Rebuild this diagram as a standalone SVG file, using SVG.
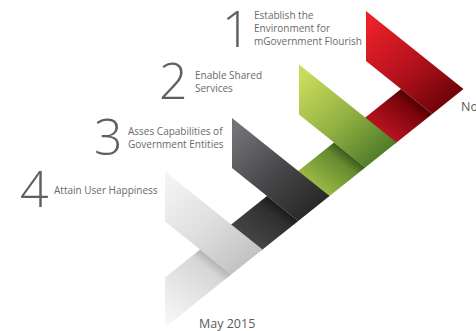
<svg xmlns="http://www.w3.org/2000/svg" width="476" height="331" viewBox="0 0 476 331">
  <defs>
    <!-- upper arm of each chevron (local coordinates, top-left corner at 0,0) -->
    <path id="armUpper" d="M0,0 L97.5,78 L66.25,103 L0,50 Z"/>
    <!-- lower arm, tucked under the next chevron -->
    <path id="armLower" d="M35,78 L66.25,103 L29,132.8 L-2,107.6 Z"/>
    <!-- lower arm of the last chevron, cut square at the left -->
    <path id="armLowerEnd" d="M35,78 L66.25,103 L0,156 L0,106 Z"/>

    <linearGradient id="redUp" gradientUnits="userSpaceOnUse" x1="5" y1="10" x2="85" y2="95">
      <stop offset="0" stop-color="#ec2029"/>
      <stop offset="0.5" stop-color="#b5121d"/>
      <stop offset="1" stop-color="#6a0207"/>
    </linearGradient>
    <linearGradient id="redLow" gradientUnits="userSpaceOnUse" x1="50.6" y1="90.5" x2="22.5" y2="125.6">
      <stop offset="0" stop-color="#520003"/>
      <stop offset="0.25" stop-color="#7c050c"/>
      <stop offset="1" stop-color="#b8141f"/>
    </linearGradient>

    <linearGradient id="greenUp" gradientUnits="userSpaceOnUse" x1="5" y1="10" x2="85" y2="95">
      <stop offset="0" stop-color="#cadb5c"/>
      <stop offset="0.5" stop-color="#93b243"/>
      <stop offset="1" stop-color="#4a7826"/>
    </linearGradient>
    <linearGradient id="greenLow" gradientUnits="userSpaceOnUse" x1="50.6" y1="90.5" x2="22.5" y2="125.6">
      <stop offset="0" stop-color="#3a5c1c"/>
      <stop offset="0.25" stop-color="#668c30"/>
      <stop offset="1" stop-color="#99b846"/>
    </linearGradient>

    <linearGradient id="darkUp" gradientUnits="userSpaceOnUse" x1="5" y1="10" x2="85" y2="95">
      <stop offset="0" stop-color="#737377"/>
      <stop offset="0.5" stop-color="#48484a"/>
      <stop offset="1" stop-color="#262626"/>
    </linearGradient>
    <linearGradient id="darkLow" gradientUnits="userSpaceOnUse" x1="50.6" y1="90.5" x2="22.5" y2="125.6">
      <stop offset="0" stop-color="#1a1a1a"/>
      <stop offset="0.25" stop-color="#303030"/>
      <stop offset="1" stop-color="#444444"/>
    </linearGradient>

    <linearGradient id="lightUp" gradientUnits="userSpaceOnUse" x1="5" y1="10" x2="85" y2="95">
      <stop offset="0" stop-color="#f3f3f3"/>
      <stop offset="0.5" stop-color="#dedede"/>
      <stop offset="1" stop-color="#c0c0c0"/>
    </linearGradient>
    <linearGradient id="lightLow" gradientUnits="userSpaceOnUse" x1="50.6" y1="90.5" x2="-2.5" y2="156.9">
      <stop offset="0" stop-color="#b4b4b4"/>
      <stop offset="0.12" stop-color="#d6d6d6"/>
      <stop offset="1" stop-color="#fbfbfb"/>
    </linearGradient>

    <style>
      .num { font-family: "Open Sans", "Liberation Sans", sans-serif; font-size: 50px; font-weight: 300; fill: #5f5f5f; }
      .lbl { font-family: "Open Sans", "Liberation Sans", sans-serif; font-size: 10px; fill: #6a6a6a; }
      .note { font-family: "Open Sans", "Liberation Sans", sans-serif; font-size: 12.5px; fill: #5a5a5a; }
    </style>
  </defs>

  <rect width="476" height="331" fill="#ffffff"/>

  <!-- step 1 -->
  <g id="step1">
    <g transform="translate(366,11)">
      <use href="#armUpper" fill="url(#redUp)"/>
      <use href="#armLower" fill="url(#redLow)"/>
    </g>
    <text class="num" x="222" y="47">1</text>
    <text class="lbl" x="254" y="19">Establish the</text>
    <text class="lbl" x="254" y="32">Environment for</text>
    <text class="lbl" x="254" y="45">mGovernment Flourish</text>
  </g>

  <!-- step 2 -->
  <g id="step2">
    <g transform="translate(299,64.5)">
      <use href="#armUpper" fill="url(#greenUp)"/>
      <use href="#armLower" fill="url(#greenLow)"/>
    </g>
    <text class="num" x="159" y="99">2</text>
    <text class="lbl" x="195" y="79">Enable Shared</text>
    <text class="lbl" x="195" y="92">Services</text>
  </g>

  <!-- step 3 -->
  <g id="step3">
    <g transform="translate(232,118)">
      <use href="#armUpper" fill="url(#darkUp)"/>
      <use href="#armLower" fill="url(#darkLow)"/>
    </g>
    <text class="num" x="94" y="155">3</text>
    <text class="lbl" x="128" y="135">Asses Capabilities of</text>
    <text class="lbl" x="128" y="148">Government Entities</text>
  </g>

  <!-- step 4 -->
  <g id="step4">
    <g transform="translate(165,171.5)">
      <use href="#armUpper" fill="url(#lightUp)"/>
      <use href="#armLowerEnd" fill="url(#lightLow)"/>
    </g>
    <text class="num" x="20" y="207">4</text>
    <text class="lbl" x="54" y="194">Attain User Happiness</text>
  </g>

  <g id="connectors"/>

  <text class="note" x="461" y="111">No</text>
  <text class="note" x="199" y="328">May 2015</text>
</svg>
